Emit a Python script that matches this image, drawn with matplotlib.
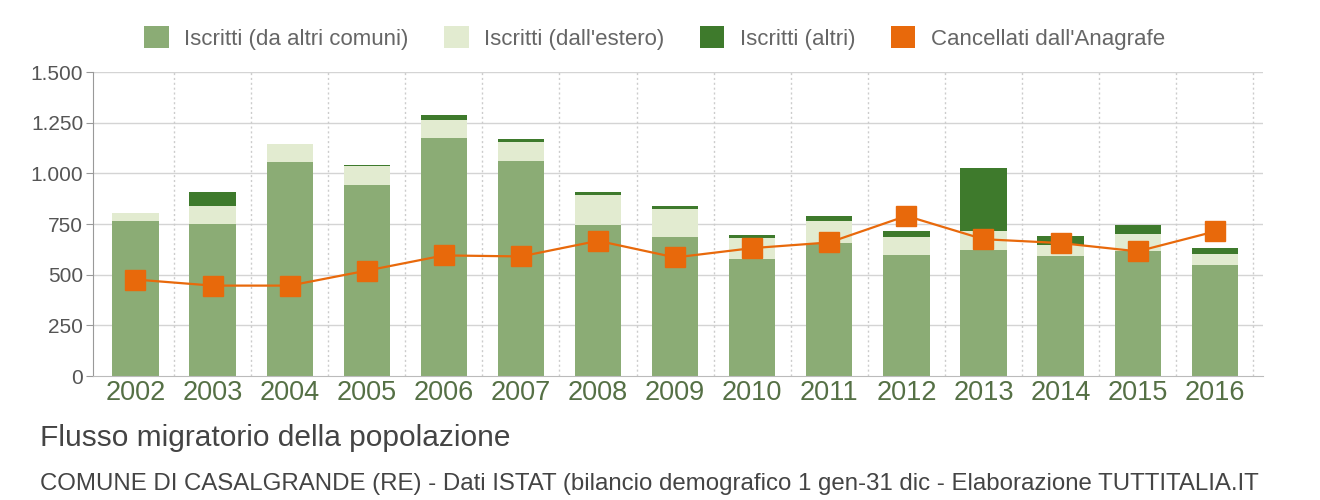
import matplotlib
matplotlib.use("Agg")
import matplotlib.pyplot as plt
from matplotlib.patches import Patch
import numpy as np

years = ["2002", "2003", "2004", "2005", "2006", "2007", "2008", "2009",
         "2010", "2011", "2012", "2013", "2014", "2015", "2016"]
iscritti_comuni = [766, 750, 1058, 943, 1176, 1061, 743, 685, 577, 656, 595, 623, 594, 615, 546]
iscritti_estero = [37, 87, 85, 95, 87, 95, 151, 138, 103, 110, 90, 90, 54, 85, 56]
iscritti_altri = [1, 73, 2, 2, 24, 13, 16, 18, 15, 23, 28, 315, 45, 46, 29]
cancellati = [476, 446, 446, 520, 595, 590, 667, 585, 631, 659, 790, 675, 656, 615, 713]
yticks = [0, 250, 500, 750, 1000, 1250, 1500]
ytick_labels = ["0", "250", "500", "750", "1.000", "1.250", "1.500"]

plt.rcParams['font.family'] = ['Liberation Sans', 'DejaVu Sans']

c_main = "#8bac75"
c_light = "#e2ebd0"
c_dark = "#3e7a2c"
c_orange = "#e8690b"

fig = plt.figure(figsize=(13.2, 5.0), dpi=100)
ax = fig.add_axes([0.0705, 0.248, 0.886, 0.608])

x = np.arange(len(years))
a = np.array(iscritti_comuni)
b = np.array(iscritti_estero)
c = np.array(iscritti_altri)
w = 0.6
ax.bar(x, a, width=w, color=c_main, zorder=2)
ax.bar(x, b, width=w, bottom=a, color=c_light, zorder=2)
ax.bar(x, c, width=w, bottom=a + b, color=c_dark, zorder=2)
ax.plot(x, cancellati, color=c_orange, lw=1.6, marker='s', markersize=14,
        markerfacecolor=c_orange, markeredgecolor=c_orange, zorder=3)

ax.set_xlim(-0.55, 14.62)
ax.set_ylim(0, 1500)
ax.set_yticks(yticks)
ax.set_yticklabels(ytick_labels)
ax.set_xticks(x)
ax.set_xticklabels(years)

for v in yticks[1:]:
    ax.axhline(v, color="#d4d4d4", lw=1, zorder=1)
ax.grid(False)
for xv in np.arange(0.5, 14.6, 1.0):
    ax.axvline(xv, color="#cccccc", lw=1, ls=(0, (1.5, 2)), zorder=1)

for s in ["top", "right"]:
    ax.spines[s].set_visible(False)
ax.spines["left"].set_color("#999999")
ax.spines["bottom"].set_color("#bbbbbb")
ax.tick_params(axis='y', colors="#999999", labelcolor="#555555", labelsize=15, length=5, pad=2)
ax.tick_params(axis='x', which='major', length=0, labelcolor="#557045", labelsize=19.5, pad=3)

handles = [Patch(facecolor=c_main, edgecolor='none'),
           Patch(facecolor=c_light, edgecolor='none'),
           Patch(facecolor=c_dark, edgecolor='none'),
           Patch(facecolor=c_orange, edgecolor='none')]
labels = ["Iscritti (da altri comuni)", "Iscritti (dall'estero)", "Iscritti (altri)",
          "Cancellati dall'Anagrafe"]
leg = fig.legend(handles, labels, loc='center', bbox_to_anchor=(0.496, 0.924), ncol=4,
                 frameon=False, fontsize=16, handlelength=1.1, handleheight=1.15,
                 handletextpad=0.7, columnspacing=1.6)
for t in leg.get_texts():
    t.set_color("#666666")

fig.text(0.030, 0.124, "Flusso migratorio della popolazione", fontsize=21.5,
         color="#444444", va='center', ha='left')
fig.text(0.030, 0.032,
         "COMUNE DI CASALGRANDE (RE) - Dati ISTAT (bilancio demografico 1 gen-31 dic - Elaborazione TUTTITALIA.IT",
         fontsize=17.3, color="#444444", va='center', ha='left')

fig.savefig("out.png", dpi=100)
